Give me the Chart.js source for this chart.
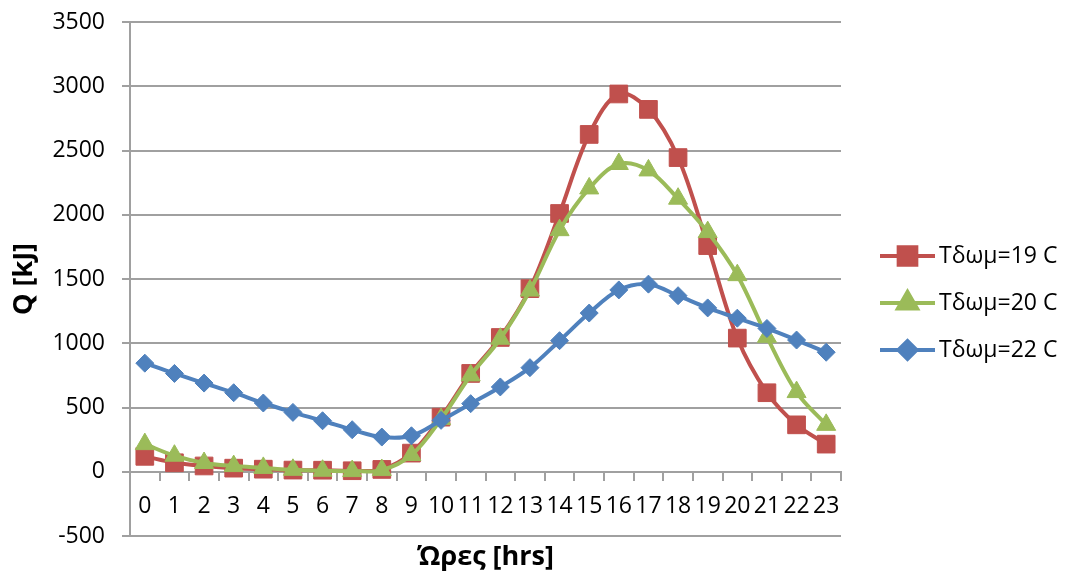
<!DOCTYPE html>
<html>
<head>
<meta charset="utf-8">
<script src="https://cdn.jsdelivr.net/npm/chart.js"></script>
<style>
  html, body { margin: 0; padding: 0; background: #fff; }
  #wrap { width: 1066px; height: 581px; }
</style>
</head>
<body>
<div id="wrap"><canvas id="chart" width="1066" height="581"></canvas></div>
<script>
// hours of the day
const hours = ['0','1','2','3','4','5','6','7','8','9','10','11','12','13','14','15','16','17','18','19','20','21','22','23'];

// Q [kJ] per hour, one array per room temperature
const q19 = [120, 70, 45, 28, 20, 13, 12, 8, 18, 145, 425, 765, 1045, 1425, 2010, 2625, 2940, 2820, 2445, 1760, 1040, 615, 365, 215];
const q20 = [215, 125, 68, 44, 30, 15, 8, 5, 13, 130, 410, 750, 1035, 1410, 1880, 2205, 2395, 2345, 2125, 1865, 1530, 1050, 620, 365];
const q22 = [845, 765, 690, 615, 535, 462, 397, 327, 270, 280, 400, 530, 660, 810, 1020, 1235, 1415, 1460, 1370, 1275, 1195, 1115, 1025, 930];

const seriesLabels = ['Τδωμ=19 C', 'Τδωμ=20 C', 'Τδωμ=22 C'];

const yMin = -500;
const yMax = 3500;
const yStep = 500;

const FONT = "'Open Sans', 'Noto Sans', sans-serif";
const GRID = '#a0a0a0';

Chart.defaults.font.family = FONT;
Chart.defaults.color = '#000';

// legend drawn on the right: line with the marker in the middle, like Excel
const sideLegend = {
  id: 'sideLegend',
  afterDraw(chart) {
    const ctx = chart.ctx;
    const x0 = 880, x1 = 935, top = 256, gap = 47;
    chart.data.datasets.forEach((ds, i) => {
      const y = top + i * gap;
      ctx.save();
      ctx.strokeStyle = ds.borderColor;
      ctx.lineWidth = ds.borderWidth;
      ctx.beginPath();
      ctx.moveTo(x0, y);
      ctx.lineTo(x1, y);
      ctx.stroke();
      ctx.fillStyle = ds.pointBackgroundColor;
      ctx.strokeStyle = ds.borderColor;
      Chart.helpers.drawPoint(ctx, {
        pointStyle: ds.pointStyle,
        radius: ds.pointRadius,
        rotation: 0,
        borderWidth: 1
      }, (x0 + x1) / 2, y);
      ctx.fillStyle = '#000';
      ctx.font = '23px ' + FONT;
      ctx.textAlign = 'left';
      ctx.textBaseline = 'middle';
      ctx.fillText(ds.label, x1 + 4, y);
      ctx.restore();
    });
  }
};

const ctx = document.getElementById('chart').getContext('2d');

new Chart(ctx, {
  type: 'line',
  data: {
    labels: hours,
    datasets: [
      {
        label: seriesLabels[0],
        data: q19,
        borderColor: '#C0504D',
        backgroundColor: '#C0504D',
        pointBackgroundColor: '#C0504D',
        borderWidth: 4,
        pointStyle: 'rect',
        pointRadius: 12.5,
        pointBorderWidth: 1,
        tension: 0.35,
        order: 3
      },
      {
        label: seriesLabels[1],
        data: q20,
        borderColor: '#9BBB59',
        backgroundColor: '#9BBB59',
        pointBackgroundColor: '#9BBB59',
        borderWidth: 4,
        pointStyle: 'triangle',
        pointRadius: 11,
        pointBorderWidth: 1,
        tension: 0.35,
        order: 2
      },
      {
        label: seriesLabels[2],
        data: q22,
        borderColor: '#4F81BD',
        backgroundColor: '#4F81BD',
        pointBackgroundColor: '#4F81BD',
        borderWidth: 4,
        pointStyle: 'rectRot',
        pointRadius: 9,
        pointBorderWidth: 1,
        tension: 0.35,
        order: 1
      }
    ]
  },
  options: {
    responsive: false,
    animation: false,
    devicePixelRatio: 1,
    layout: {
      padding: { left: 0, right: 225, top: 22, bottom: 45 }
    },
    plugins: {
      legend: { display: false },
      tooltip: { enabled: false }
    },
    scales: {
      x: {
        type: 'category',
        position: { y: 0 },
        offset: true,
        grid: {
          display: true,
          offset: true,
          drawOnChartArea: false,
          drawTicks: true,
          tickLength: 8,
          color: GRID,
          lineWidth: 2
        },
        border: { display: true, color: GRID, width: 2 },
        ticks: {
          font: { size: 23 },
          color: '#000',
          padding: 13,
          maxRotation: 0,
          autoSkip: false
        },
        title: {
          display: true,
          text: 'Ώρες [hrs]',
          font: { size: 27, weight: 'bold' },
          color: '#000',
          padding: { top: 8, bottom: 0 }
        }
      },
      y: {
        min: yMin,
        max: yMax,
        ticks: {
          stepSize: yStep,
          font: { size: 23 },
          color: '#000',
          padding: 17,
          callback: (v) => String(v)
        },
        grid: {
          color: GRID,
          lineWidth: 2,
          tickLength: 8
        },
        border: { display: true, color: GRID, width: 2 },
        title: {
          display: true,
          text: 'Q [kJ]',
          font: { size: 27, weight: 'bold' },
          color: '#000',
          padding: { top: 8, bottom: 0 }
        },
        afterFit(scale) {
          // fixed axis width, and let layout.padding alone place the plot top/bottom
          scale.width = 130;
          scale.paddingTop = 0;
          scale.paddingBottom = 0;
        }
      }
    }
  },
  plugins: [sideLegend]
});
</script>
</body>
</html>
